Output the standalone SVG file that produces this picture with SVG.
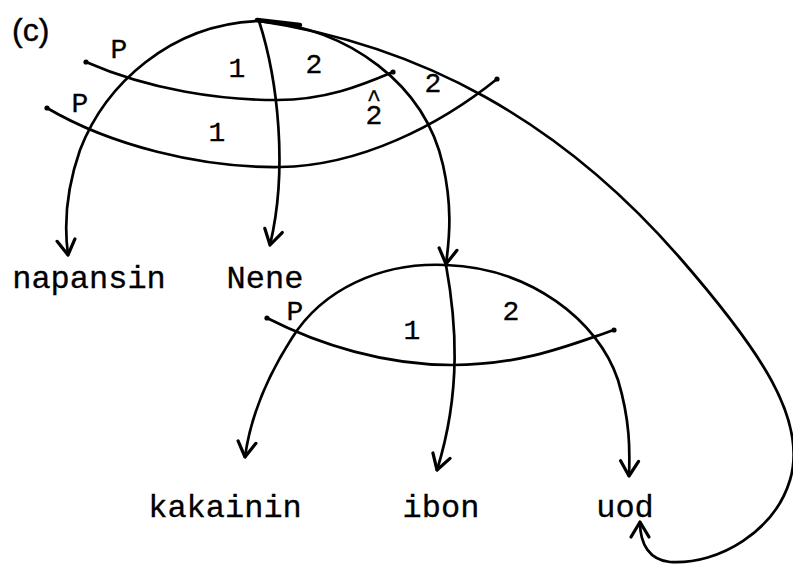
<svg xmlns="http://www.w3.org/2000/svg" width="793" height="568" viewBox="0 0 793 568">
<defs>
<style>
.ln{fill:none;stroke:#000;stroke-width:2.7;stroke-linecap:round}
.arr{marker-end:url(#v)}
.lbl{font-family:"Liberation Mono","DejaVu Sans Mono",monospace;font-size:32px;fill:#000;stroke:#000;stroke-width:0.3;text-anchor:middle}
.sm{font-family:"Liberation Mono","DejaVu Sans Mono",monospace;font-size:28px;fill:#000;stroke:#000;stroke-width:0.3;text-anchor:middle}
.dot{fill:#000}
</style>
<marker id="v" viewBox="-20 -12 24 24" markerWidth="24" markerHeight="24" refX="0" refY="0" orient="auto" markerUnits="userSpaceOnUse">
<path d="M-15,-9 L0,0 L-15,9" fill="none" stroke="#000" stroke-width="3.2" stroke-linecap="round" stroke-linejoin="round"/>
</marker>
</defs>
<text x="12" y="41" font-family="Liberation Sans,Arial,sans-serif" font-size="32" fill="#000" stroke="#000" stroke-width="0.4">(c)</text>
<g id="connectors">
<path class="ln arr" d="M259,21 C170,24 105,85 80,150 C66,190 64,225 68,255"/>
<path class="ln arr" d="M259,21 C278,80 288,170 270,245"/>
<path class="ln arr" d="M259,21 C350,28 425,85 443,165 C452,205 450,235 446,264"/>
<path class="ln arr" d="M259,21 C420,45 560,120 680,258 C760,350 808,420 790,480 C775,530 720,565 670,562 C650,560 640,545 640,522"/>
<path class="ln" d="M86,62 C150,90 220,100 277,100 C325,100 360,86 393,72"/>
<path class="ln" d="M47,108 C110,145 200,168 280,167 C360,166 440,125 497,79"/>
<path class="ln arr" d="M446,265 C380,262 322,290 292,338 C265,380 250,420 245,457"/>
<path class="ln arr" d="M446,265 C456,320 462,390 437,470"/>
<path class="ln arr" d="M446,265 C530,268 598,320 618,380 C630,420 630,450 629,476"/>
<path class="ln" d="M267,318 C320,345 385,365 452,365 C525,365 575,343 614,330"/>
<circle class="dot" cx="86" cy="62" r="2.6"/>
<circle class="dot" cx="393" cy="72" r="2.6"/>
<circle class="dot" cx="47" cy="108" r="2.6"/>
<circle class="dot" cx="497" cy="79" r="2.6"/>
<circle class="dot" cx="267" cy="318" r="2.6"/>
<circle class="dot" cx="614" cy="330" r="2.6"/>
</g>
<g id="node-top"><path d="M257,20 L300,25" stroke="#000" stroke-width="4.5" stroke-linecap="round"/></g>
<g id="node-ibon-head"><circle cx="446" cy="265" r="2" fill="#000"/></g>
<g id="labels-top">
<text class="sm" x="119" y="58">P</text>
<text class="sm" x="237" y="77">1</text>
<text class="sm" x="314" y="73">2</text>
<text class="sm" x="433" y="92">2</text>
<text class="sm" x="80" y="112">P</text>
<text class="sm" x="217" y="141">1</text>
<text class="sm"><tspan x="374" y="124">2</tspan><tspan x="374" y="106" font-size="24">^</tspan></text>
</g>
<g id="labels-lower">
<text class="sm" x="295" y="320">P</text>
<text class="sm" x="412" y="339">1</text>
<text class="sm" x="511" y="320">2</text>
</g>
<g id="node-napansin"><text class="lbl" x="89" y="288">napansin</text></g>
<g id="node-Nene"><text class="lbl" x="265" y="288">Nene</text></g>
<g id="node-kakainin"><text class="lbl" x="225" y="517">kakainin</text></g>
<g id="node-ibon"><text class="lbl" x="441" y="517">ibon</text></g>
<g id="node-uod"><text class="lbl" x="625" y="517">uod</text></g>
</svg>
